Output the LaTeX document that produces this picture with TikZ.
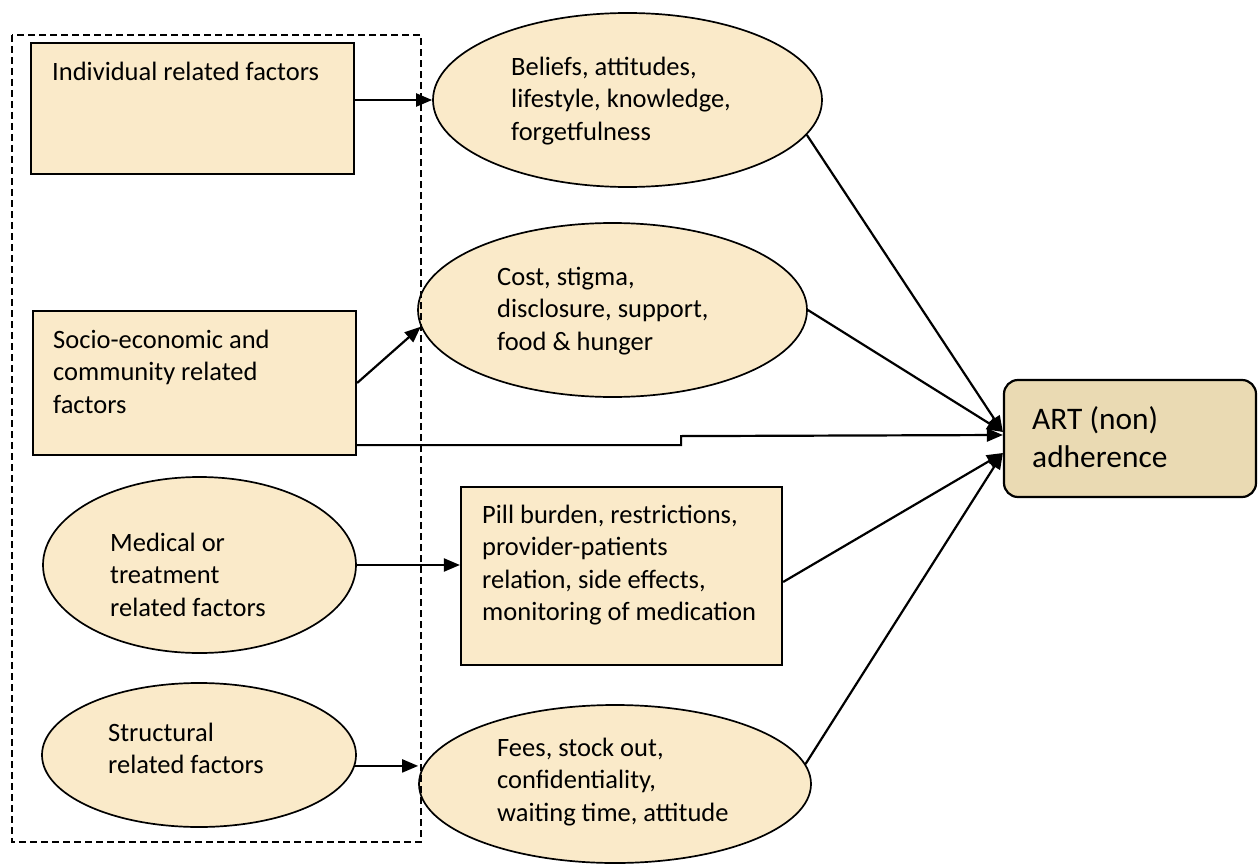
\documentclass[tikz,border=0pt]{standalone}
\usepackage{fontspec}
\setmainfont{Carlito}
\usetikzlibrary{arrows.meta,shapes.geometric,calc}
\definecolor{cream}{RGB}{250,234,201}
\definecolor{artfill}{RGB}{234,218,179}
\newcommand{\tstrut}{\rule{0pt}{0.75em}}
\begin{document}
\begin{tikzpicture}[x=1pt,y=-1pt,
  box/.style={draw, line width=2.2pt, fill=cream, rectangle, inner sep=0pt},
  oval/.style={draw, line width=1.7pt, fill=cream, ellipse, inner sep=0pt},
  lbl/.style={anchor=north west, inner sep=0pt, align=left, font=\fontsize{26.5}{32.5}\selectfont},
  biglbl/.style={anchor=north west, inner sep=0pt, align=left, font=\fontsize{31.4}{38}\selectfont},
  arr/.style={line width=2.2pt, -{Triangle[length=16pt,width=13pt]}},
]
\path[use as bounding box] (0,0) rectangle (1258,864);

% shapes
\node[box, minimum width=323pt, minimum height=131pt] (b1) at (192.5,108.5) {};
\node[box, minimum width=323pt, minimum height=144pt] (b2) at (194.5,383) {};
\node[box, minimum width=321pt, minimum height=178pt] (b3) at (621.5,576) {};
\node[oval, minimum width=389pt, minimum height=174pt] (e1) at (627.5,100) {};
\node[oval, minimum width=389pt, minimum height=174pt] (e2) at (612.5,310) {};
\node[oval, minimum width=313pt, minimum height=176pt] (e3) at (199.5,565) {};
\node[oval, minimum width=314pt, minimum height=144pt] (e4) at (199,755) {};
\node[oval, minimum width=392pt, minimum height=158pt] (e5) at (615,784) {};
\node[draw, line width=2.2pt, fill=artfill, rounded corners=14pt, inner sep=0pt,
      minimum width=252pt, minimum height=117pt] (art) at (1130,438.5) {};

% texts
\node[lbl] (t1) at (52,60) {\tstrut Individual related factors};
\node[lbl] (t2) at (53,328) {\tstrut Socio-economic and\\community related\\factors};
\node[lbl] (t3) at (110,531) {\tstrut Medical or\\treatment\\related factors};
\node[lbl] (t4) at (108,721) {\tstrut Structural\\related factors};
\node[lbl] (t5) at (511,55) {\tstrut Beliefs, attitudes,\\lifestyle, knowledge,\\forgetfulness};
\node[lbl] (t6) at (497,265) {\tstrut Cost, stigma,\\disclosure, support,\\food \& hunger};
\node[lbl] (t7) at (482,503) {\tstrut Pill burden, restrictions,\\provider-patients\\relation, side effects,\\monitoring of medication};
\node[lbl] (t8) at (497,736) {\tstrut Fees, stock out,\\confidentiality,\\waiting time, attitude};
\node[biglbl] (t9) at (1032,406) {\tstrut ART (non)\\adherence};

% connectors
\draw[arr] (e1.west -| b1.east) -- (e1.west);
\draw[arr] (b2.east) -- (e2.185);
\draw[arr] ($(b2.south east)+(0,-11)$) -- ($(b2.south east)+(324,-11)$)
           -- ($(b2.south east)+(324,-20)$) -- ($(art.west)+(0,-3.5)$);
\draw[arr] (e3.east) -- (e3.east -| b3.west);
\draw[arr] (e4.-4) -- (e4.-4 -| e5.west);
\draw[arr] (e1.-11.6) -- ($(art.west)+(0,-6.5)$);
\draw[arr] (e2.east) -- ($(art.west)+(0,-6.5)$);
\draw[arr] ($(b3.east)+(0,6)$) -- ($(art.west)+(0,14.5)$);
\draw[arr] (e5.6) -- ($(art.west)+(0,14.5)$);

% dashed frame
\draw[line width=1.6pt, dash pattern=on 7pt off 4pt] (12,35) rectangle (421,842);
\end{tikzpicture}
\end{document}
